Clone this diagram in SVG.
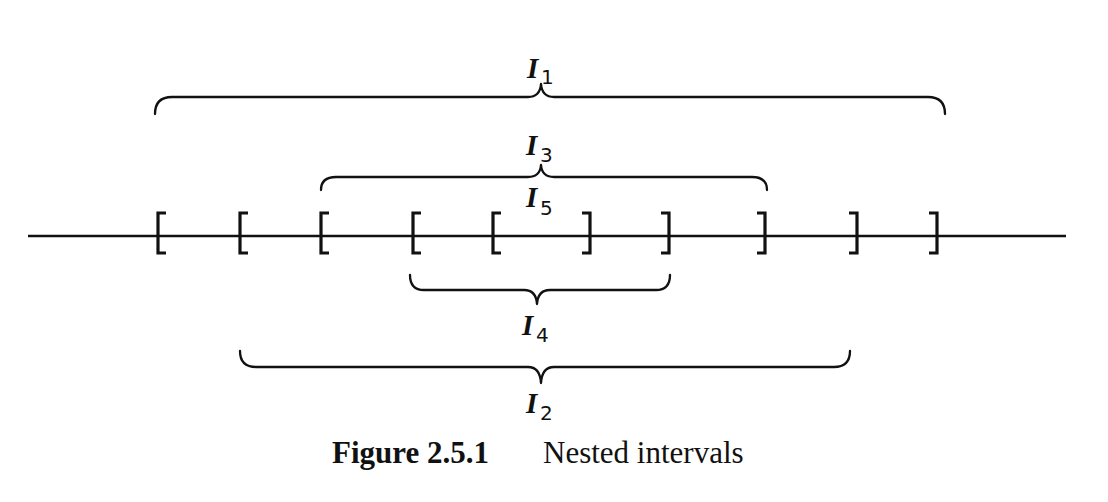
<svg xmlns="http://www.w3.org/2000/svg" width="1108" height="502" viewBox="0 0 1108 502">
<style>
.ln{fill:none;stroke:#111;stroke-linecap:butt;stroke-linejoin:miter}
.axis{stroke-width:2.5}
.br{stroke-width:3.2}
.brace{stroke-width:2.3;stroke-linejoin:round;stroke-linecap:round}
.I{font-family:"Liberation Serif",serif;font-style:italic;font-weight:bold;font-size:29px;fill:#111}
.sub{font-family:"DejaVu Sans","Liberation Sans",sans-serif;font-size:20px;fill:#111}
.cap{font-family:"Liberation Serif",serif;font-size:31px;fill:#111}
</style>
<rect width="1108" height="502" fill="#fff"/>
<g id="connectors">
<path id="axis" class="ln axis" d="M28 236 H1066"/>
</g>
<g id="brackets">
<path class="ln br" d="M166 213 H158 V253 H166"/>
<path class="ln br" d="M248 213 H240 V253 H248"/>
<path class="ln br" d="M329 213 H321 V253 H329"/>
<path class="ln br" d="M421 213 H413 V253 H421"/>
<path class="ln br" d="M501 213 H493 V253 H501"/>
<path class="ln br" d="M582 213 H590 V253 H582"/>
<path class="ln br" d="M661 213 H669 V253 H661"/>
<path class="ln br" d="M757 213 H765 V253 H757"/>
<path class="ln br" d="M849 213 H857 V253 H849"/>
<path class="ln br" d="M929 213 H937 V253 H929"/>
</g>
<g id="I1">
<path class="ln brace" d="M155 114 Q155 97 172 97 H528 Q540 97 541 84 Q542 97 554 97 H928 Q945 97 945 114"/>
<text x="527" y="78"><tspan class="I">I</tspan><tspan class="sub" x="541" y="84">1</tspan></text>
</g>
<g id="I3">
<path class="ln brace" d="M321 190 Q321 177 336 177 H528 Q540 177 541 165 Q542 177 554 177 H752 Q767 177 767 190"/>
<text x="526" y="155"><tspan class="I">I</tspan><tspan class="sub" x="540" y="162">3</tspan></text>
</g>
<g id="I5">
<text x="526" y="207"><tspan class="I">I</tspan><tspan class="sub" x="540" y="215">5</tspan></text>
</g>
<g id="I4">
<path class="ln brace" d="M410 275 Q410 290 424 290 H524 Q536 290 537 304 Q538 290 550 290 H656 Q670 290 670 275"/>
<text x="522" y="335"><tspan class="I">I</tspan><tspan class="sub" x="536" y="342">4</tspan></text>
</g>
<g id="I2">
<path class="ln brace" d="M240 351 Q240 367 256 367 H528 Q540 367 541 383 Q542 367 554 367 H834 Q850 367 850 351"/>
<text x="526" y="413"><tspan class="I">I</tspan><tspan class="sub" x="540" y="420">2</tspan></text>
</g>
<g id="caption">
<text class="cap" x="332" y="463"><tspan font-weight="bold">Figure 2.5.1</tspan><tspan x="543">Nested intervals</tspan></text>
</g>
</svg>
